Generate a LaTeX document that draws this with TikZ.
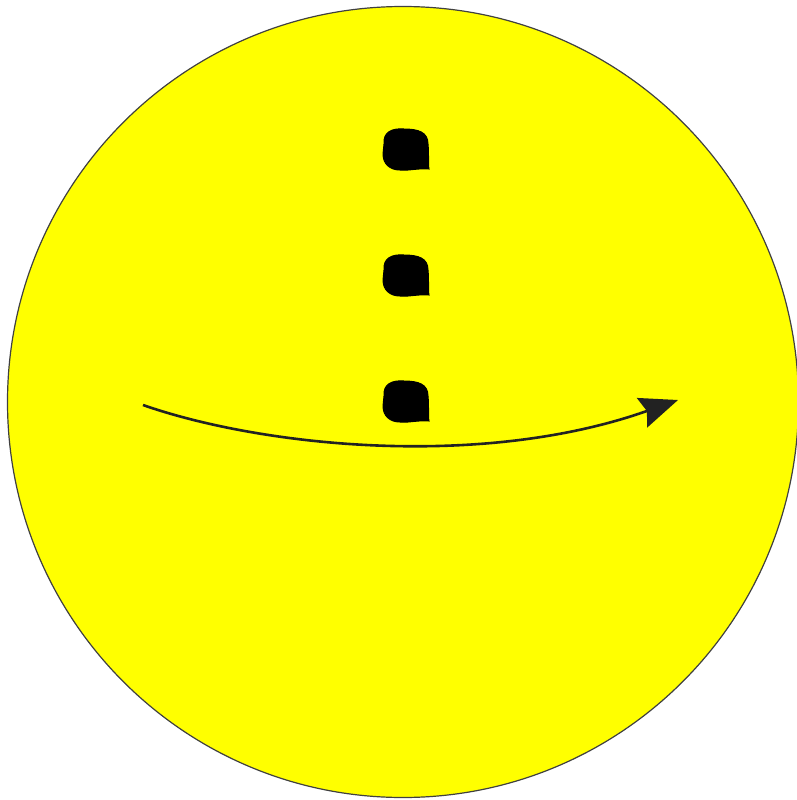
\documentclass[tikz,border=0pt]{standalone}
\usetikzlibrary{arrows.meta}
\definecolor{ballyellow}{RGB}{255,255,0}
\definecolor{arrowgray}{RGB}{34,34,34}
\tikzset{
  ball/.style={fill=ballyellow, draw=black!75, line width=1.2pt},
  blob/.style={fill=black, draw=black, line width=1pt},
  swing/.style={draw=arrowgray, line width=2.6pt, -{Stealth[length=38pt,width=31pt,inset=5pt]}}
}
\newcommand{\blobat}[2]{%
  \path[blob] (#1-22,#2-6) .. controls (#1-23,#2-18) and (#1-14,#2-22) .. (#1-2,#2-21)
    .. controls (#1+12,#2-21) and (#1+22,#2-18) .. (#1+22,#2-6)
    .. controls (#1+23,#2+4) and (#1+22,#2+14) .. (#1+23,#2+19)
    .. controls (#1+12,#2+18) and (#1+2,#2+21) .. (#1-6,#2+20)
    .. controls (#1-16,#2+20) and (#1-23,#2+14) .. (#1-23,#2+4) -- cycle;}
\begin{document}
\begin{tikzpicture}[x=1pt,y=-1pt]
\useasboundingbox (0,0) rectangle (797,800);
\path[ball] (403,402) circle[radius=395.5];
\blobat{406}{150}
\blobat{406}{276}
\blobat{406}{402}
\coordinate (s) at (143,405);
\coordinate (e) at (678,400);
\draw[swing] (s) .. controls (260,446) and (480,470) .. (e);
\end{tikzpicture}
\end{document}
